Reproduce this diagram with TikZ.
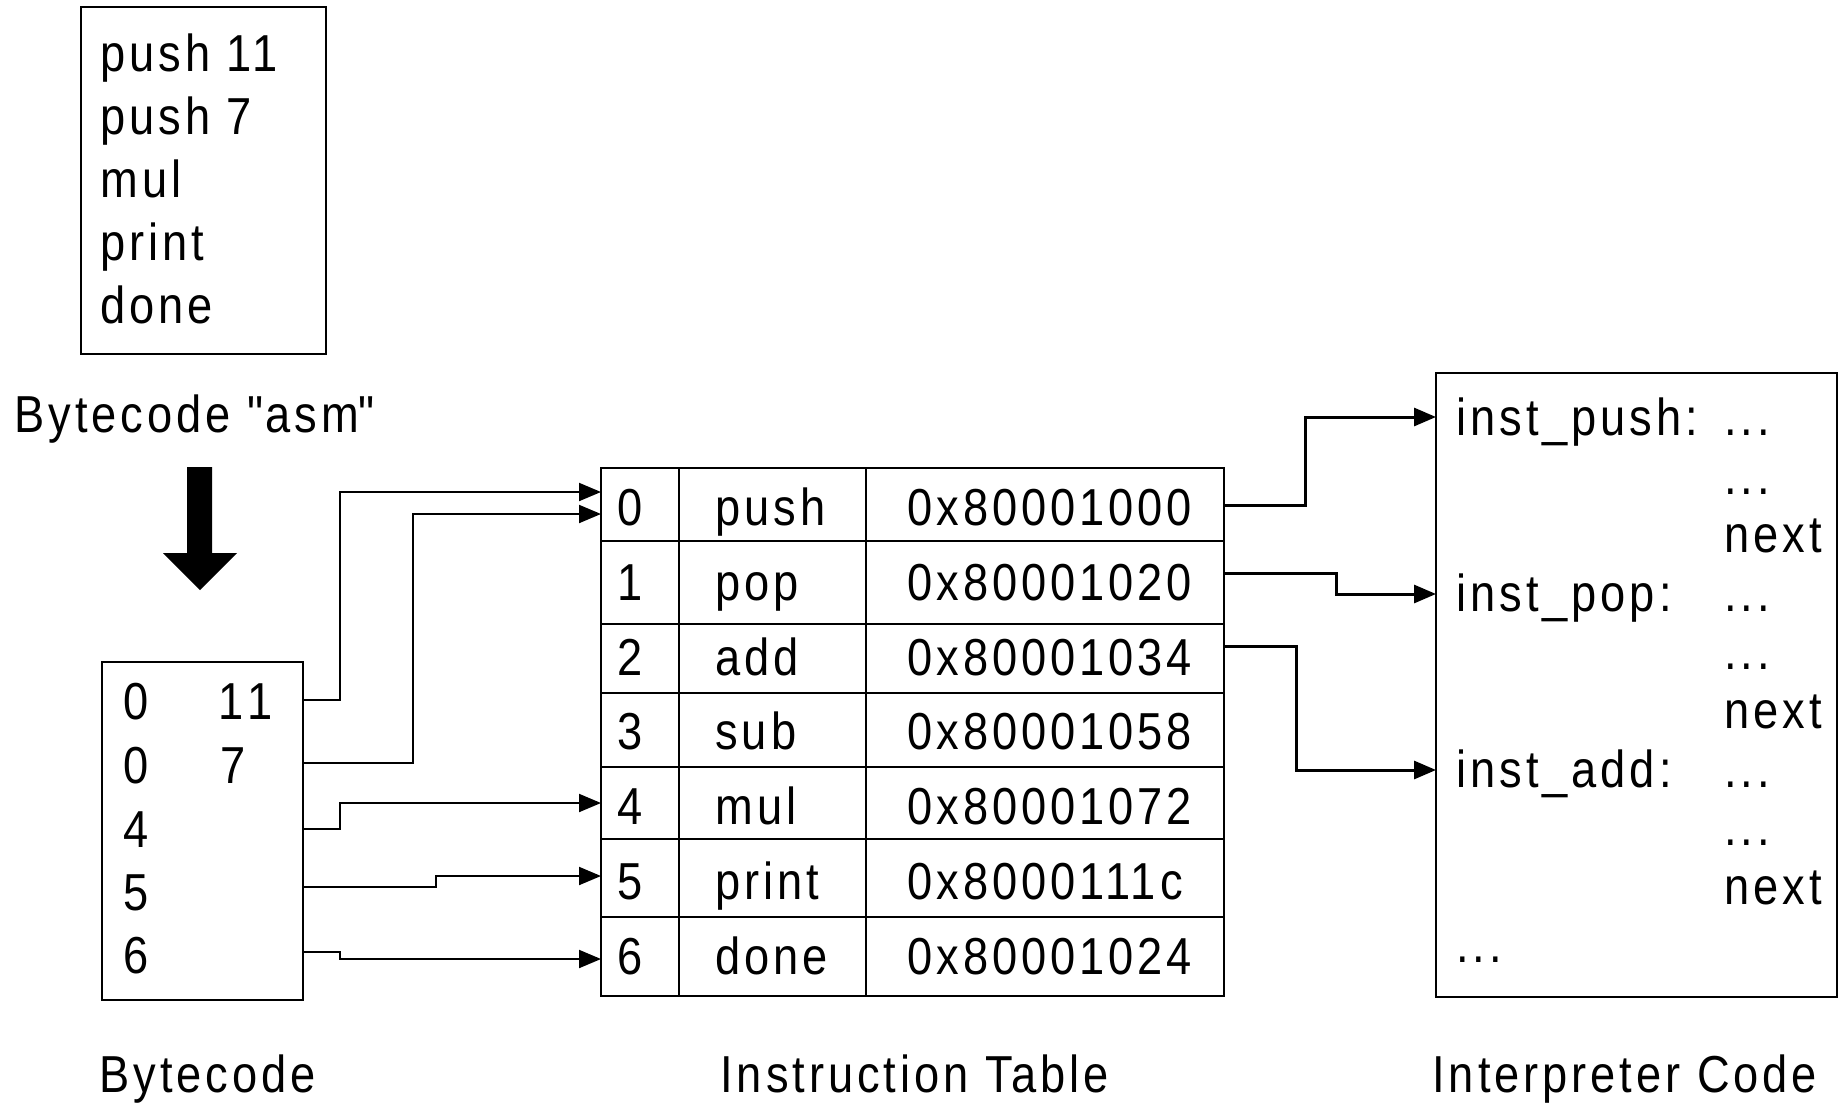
\documentclass[tikz,border=0pt]{standalone}
\usepackage{fontspec}
\setmainfont{Liberation Sans}[FakeStretch=0.87,LetterSpace=7.6]
\usetikzlibrary{arrows.meta,fit}
\begin{document}
\begin{tikzpicture}[x=0.5pt,y=-0.5pt,
  box/.style={draw, line width=1pt, inner sep=0pt},
  txt/.style={anchor=base west, inner sep=0pt, font=\fontsize{26pt}{30pt}\selectfont},
  conn/.style={line width=1pt, -{Triangle[length=11pt,width=9pt]}},
  connr/.style={line width=1.5pt, -{Triangle[length=11pt,width=9pt]}},
  gridline/.style={line width=1pt},
  ]
\useasboundingbox (0,0) rectangle (1841,1103);

% ---------- assembly listing ----------
\node[box, fit={(81,7)(326,354)}] (asm) {};
\node[txt] (a1) at (100,71) {push 11};
\node[txt] (a2) at (100,134) {push 7};
\node[txt] (a3) at (100,197) {mul};
\node[txt] (a4) at (100,260) {print};
\node[txt] (a5) at (100,323) {done};
\node[txt] (asmlabel) at (14,432) {Bytecode \textquotedbl asm\textquotedbl};

% big down arrow
\fill (187,467) -- (212,467) -- (212,553) -- (237,553) -- (200,590)
      -- (163,553) -- (187,553) -- cycle;

% ---------- bytecode ----------
\node[box, fit={(102,662)(303,1000)}] (bc) {};
\node[txt] (b1) at (123,719) {0};
\node[txt] (b1v) at (218,719) {1\kern2pt1};
\node[txt] (b2) at (123,783) {0};
\node[txt] (b2v) at (220,783) {7};
\node[txt] (b3) at (123,847) {4};
\node[txt] (b4) at (123,910) {5};
\node[txt] (b5) at (123,973) {6};
\node[txt] (bclabel) at (99,1092) {Bytecode};

% ---------- instruction table ----------
\node[box, fit={(601,468)(1224,996)}] (tbl) {};
\draw[gridline] (679,468) -- (679,996);
\draw[gridline] (866,468) -- (866,996);
\foreach \yy in {541,624,693,767,839,917}
  \draw[gridline] (601,\yy) -- (1224,\yy);

\node[txt] (t0i) at (617,525) {0};
\node[txt] (t0n) at (715,525) {push};
\node[txt] (t0a) at (907,525) {0x80001000};
\node[txt] (t1i) at (617,600) {1};
\node[txt] (t1n) at (715,600) {pop};
\node[txt] (t1a) at (907,600) {0x80001020};
\node[txt] (t2i) at (617,675) {2};
\node[txt] (t2n) at (715,675) {add};
\node[txt] (t2a) at (907,675) {0x80001034};
\node[txt] (t3i) at (617,749) {3};
\node[txt] (t3n) at (715,749) {sub};
\node[txt] (t3a) at (907,749) {0x80001058};
\node[txt] (t4i) at (617,824) {4};
\node[txt] (t4n) at (715,824) {mul};
\node[txt] (t4a) at (907,824) {0x80001072};
\node[txt] (t5i) at (617,899) {5};
\node[txt] (t5n) at (715,899) {print};
\node[txt] (t5a) at (907,899) {0x8000111c};
\node[txt] (t6i) at (617,974) {6};
\node[txt] (t6n) at (715,974) {done};
\node[txt] (t6a) at (907,974) {0x80001024};
\node[txt] (tbllabel) at (720,1092) {Instruction Table};

% ---------- interpreter code ----------
\node[box, fit={(1436,373)(1837,997)}] (interp) {};
\node[txt] (ipush) at (1456,435) {inst\_push:};
\node[txt] (d0) at (1724,435) {...};
\node[txt] (d1) at (1724,494) {...};
\node[txt] (n1) at (1724,552) {next};
\node[txt] (ipop) at (1456,611) {inst\_pop:};
\node[txt] (d3) at (1724,611) {...};
\node[txt] (d4) at (1724,669) {...};
\node[txt] (n2) at (1724,728) {next};
\node[txt] (iadd) at (1456,787) {inst\_add:};
\node[txt] (d6) at (1724,787) {...};
\node[txt] (d7) at (1724,845) {...};
\node[txt] (n3) at (1724,904) {next};
\node[txt] (dend) at (1456,962) {...};
\node[txt] (interplabel) at (1432,1092) {Interpreter Code};

% ---------- connector end points ----------
\coordinate (bo1) at (303,700);
\coordinate (bo2) at (303,763);
\coordinate (bo3) at (303,829);
\coordinate (bo4) at (303,887);
\coordinate (bo5) at (303,952);
\coordinate (ti0a) at (601,492);
\coordinate (ti0b) at (601,514);
\coordinate (ti4) at (601,803);
\coordinate (ti5) at (601,876);
\coordinate (ti6) at (601,959);

\coordinate (to0) at (1224,505);
\coordinate (to1) at (1224,573);
\coordinate (to2) at (1224,646);
\coordinate (ip0) at (1436,417);
\coordinate (ip1) at (1436,594);
\coordinate (ip2) at (1436,770);

% bytecode -> table
\draw[conn] (bo1) -| (340,492) -- (ti0a);
\draw[conn] (bo2) -| (413,514) -- (ti0b);
\draw[conn] (bo3) -| (340,803) -- (ti4);
\draw[conn] (bo4) -| (436,876) -- (ti5);
\draw[conn] (bo5) -| (340,959) -- (ti6);

% table -> interpreter
\draw[connr] (to0) -| (1305,417) -- (ip0);
\draw[connr] (to1) -| (1336,594) -- (ip1);
\draw[connr] (to2) -| (1296,770) -- (ip2);
\end{tikzpicture}
\end{document}
